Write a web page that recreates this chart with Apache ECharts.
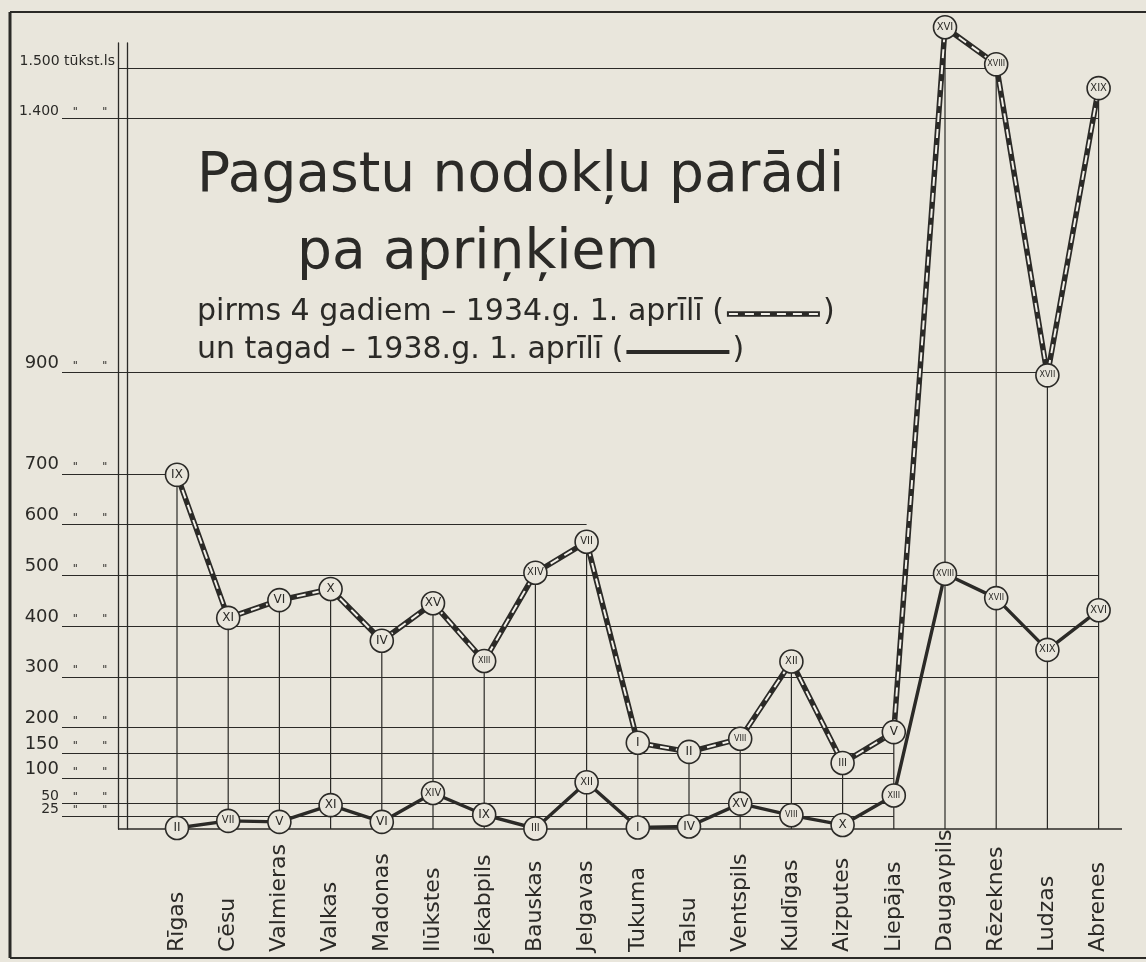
<!DOCTYPE html>
<html>
<head>
<meta charset="utf-8">
<title>Pagastu nodokļu parādi pa apriņķiem</title>
<script src="https://cdn.jsdelivr.net/npm/echarts@6/dist/echarts.min.js"></script>
<style>
  html, body { margin: 0; padding: 0; background: #e9e6dc; }
  #main { width: 1146px; height: 962px; }
</style>
</head>
<body>
<div id="main"></div>
<script>
// apriņķi, no kreisās uz labo
var districts = ['Rīgas', 'Cēsu', 'Valmieras', 'Valkas', 'Madonas', 'Ilūkstes', 'Jēkabpils', 'Bauskas', 'Jelgavas',
  'Tukuma', 'Talsu', 'Ventspils', 'Kuldīgas', 'Aizputes', 'Liepājas', 'Daugavpils', 'Rēzeknes', 'Ludzas', 'Abrenes'];

// parādi, tūkst. latu (nolasīts no attēla)
var debt1934 = [698, 416, 451, 473, 371, 445, 331, 505, 566, 170, 152, 178, 330, 130, 191, 1580, 1507, 894, 1460];
var debt1938 = [2, 16, 14, 47, 14, 71, 28, 1, 92, 3, 5, 50, 27, 8, 66, 503, 455, 353, 431];

// vietas (romiešu cipari aplīšos)
var rank1934 = ['IX', 'XI', 'VI', 'X', 'IV', 'XV', 'XIII', 'XIV', 'VII', 'I', 'II', 'VIII', 'XII', 'III', 'V', 'XVI', 'XVIII', 'XVII', 'XIX'];
var rank1938 = ['II', 'VII', 'V', 'XI', 'VI', 'XIV', 'IX', 'III', 'XII', 'I', 'IV', 'XV', 'VIII', 'X', 'XIII', 'XVIII', 'XVII', 'XIX', 'XVI'];

// skalas līnijas
var tickValues = [1500, 1400, 900, 700, 600, 500, 400, 300, 200, 150, 100, 50, 25];
var tickLabels = ['1.500 tūkst.ls', '1.400', '900', '700', '600', '500', '400', '300', '200', '150', '100', '50', '25'];

// līdz kuram apriņķim katra līnija iet
var tickLineEnd = [16, 18, 17, 0, 8, 18, 18, 18, 14, 14, 14, 14, 14];

var ink = '#2b2a27';
var paper = '#e9e6dc';
var FONT = '"DejaVu Sans", sans-serif';

var dropLines = debt1934.map(function (v, i) { return Math.max(v, debt1938[i]); });

var gridLines = [];
tickValues.forEach(function (v, i) {
  var small = v >= 1400 || v <= 50;
  var startX = v === 1500 ? 118 : 62;
  gridLines.push([
    { x: startX, yAxis: v,
      label: { show: true, position: 'start', distance: 3, verticalAlign: 'bottom',
        formatter: tickLabels[i], color: ink, fontFamily: FONT, fontSize: small ? 14 : 18 } },
    { xAxis: districts[tickLineEnd[i]], yAxis: v }
  ]);
  if (v !== 1500) {
    // pēdiņas (") aiz skaitļa
    gridLines.push([
      { x: 62, yAxis: v,
        label: { show: true, position: 'insideMiddleTop', distance: 1,
          formatter: '"       "', color: ink, fontFamily: FONT, fontSize: 11 } },
      { x: 118, yAxis: v }
    ]);
  }
});
// pamatlīnija
gridLines.push([{ x: 118, yAxis: 0, lineStyle: { width: 1.6 } }, { x: 1122, yAxis: 0 }]);

function romanTag(t) {
  var k = t.length <= 2 ? 'a' : (t.length === 3 ? 'b' : 'c');
  return '{' + k + '|' + t + '}';
}
var romanRich = {
  a: { fontSize: 12, color: ink, fontFamily: FONT },
  b: { fontSize: 10, color: ink, fontFamily: FONT },
  c: { fontSize: 8, color: ink, fontFamily: FONT }
};

// legendas paraugu vietas pēc teksta platuma
var ctx = document.createElement('canvas').getContext('2d');
var subFont = '30px ' + FONT;
ctx.font = subFont;
var sub1 = 'pirms 4 gadiem – 1934.g. 1. aprīlī (';
var sub2 = 'un tagad – 1938.g. 1. aprīlī (';
var subX = 197;
var e1 = subX + ctx.measureText(sub1).width;
var e2 = subX + ctx.measureText(sub2).width;

var myChart = echarts.init(document.getElementById('main'));

var option = {
  backgroundColor: paper,
  animation: false,
  textStyle: { fontFamily: FONT, color: ink },
  title: [
    { text: 'Pagastu nodokļu parādi', left: 192, top: 144,
      textStyle: { fontSize: 55, fontWeight: 'normal', color: ink, fontFamily: FONT } },
    { text: 'pa apriņķiem', left: 292, top: 221,
      textStyle: { fontSize: 55, fontWeight: 'normal', color: ink, fontFamily: FONT } }
  ],
  grid: { left: 151.4, right: 21.8, top: 43, bottom: 133, outerBoundsMode: 'none' },
  xAxis: {
    type: 'category',
    data: districts,
    boundaryGap: true,
    axisLine: { show: false },
    axisTick: { show: false },
    axisLabel: { interval: 0, rotate: 90, align: 'left', margin: 123,
      fontSize: 22, color: ink, fontFamily: FONT }
  },
  yAxis: [
    { type: 'value', min: 0, max: 1549, offset: 33.4,
      axisLine: { show: true, onZero: false, lineStyle: { color: ink, width: 1.3 } },
      axisTick: { show: false }, axisLabel: { show: false }, splitLine: { show: false } },
    { type: 'value', min: 0, max: 1549, position: 'left', offset: 24.4,
      axisLine: { show: true, onZero: false, lineStyle: { color: ink, width: 1.3 } },
      axisTick: { show: false }, axisLabel: { show: false }, splitLine: { show: false } }
  ],
  series: [
    {
      name: 'stabi',
      type: 'bar',
      data: dropLines,
      barWidth: 1.2,
      z: 1,
      clip: false,
      silent: true,
      itemStyle: { color: ink }
    },
    {
      name: '1934',
      type: 'line',
      data: debt1934,
      z: 2,
      clip: false,
      showSymbol: false,
      lineStyle: { color: ink, width: 5.5 },
      markLine: {
        silent: true,
        z: 1,
        symbol: ['none', 'none'],
        label: { show: false },
        lineStyle: { color: ink, width: 1.1, type: 'solid' },
        emphasis: { disabled: true },
        data: gridLines
      }
    },
    {
      name: '1934 svītras',
      type: 'line',
      data: debt1934,
      z: 3,
      clip: false,
      silent: true,
      showSymbol: false,
      lineStyle: { color: '#f3f1ea', width: 2, type: [9, 7] }
    },
    {
      name: '1938',
      type: 'line',
      data: debt1938,
      z: 3,
      clip: false,
      showSymbol: false,
      lineStyle: { color: ink, width: 3.4 }
    },
    {
      name: '1934 vietas',
      type: 'scatter',
      data: debt1934,
      z: 5,
      clip: false,
      silent: true,
      symbolSize: 23,
      itemStyle: { color: paper, borderColor: ink, borderWidth: 1.6, opacity: 1 },
      label: { show: true, position: 'inside',
        formatter: function (p) { return romanTag(rank1934[p.dataIndex]); }, rich: romanRich }
    },
    {
      name: '1938 vietas',
      type: 'scatter',
      data: debt1938,
      z: 5,
      clip: false,
      silent: true,
      symbolSize: 23,
      itemStyle: { color: paper, borderColor: ink, borderWidth: 1.6, opacity: 1 },
      label: { show: true, position: 'inside',
        formatter: function (p) { return romanTag(rank1938[p.dataIndex]); }, rich: romanRich }
    }
  ],
  graphic: [
    // lapas rāmis
    { type: 'line', silent: true, shape: { x1: 10, y1: 12, x2: 1146, y2: 12 }, style: { stroke: ink, lineWidth: 2 } },
    { type: 'line', silent: true, shape: { x1: 10, y1: 12, x2: 10, y2: 958 }, style: { stroke: ink, lineWidth: 3 } },
    { type: 'line', silent: true, shape: { x1: 10, y1: 958, x2: 1146, y2: 958 }, style: { stroke: ink, lineWidth: 2 } },
    // apakšvirsraksti ar legendu
    { type: 'text', x: subX, y: 312, silent: true,
      style: { text: sub1, font: subFont, fill: ink, verticalAlign: 'middle' } },
    { type: 'line', silent: true, shape: { x1: e1 + 3, y1: 314, x2: e1 + 96, y2: 314 },
      style: { stroke: ink, lineWidth: 5.5 } },
    { type: 'line', silent: true, shape: { x1: e1 + 5, y1: 314, x2: e1 + 94, y2: 314 },
      style: { stroke: '#f3f1ea', lineWidth: 2, lineDash: [9, 7] } },
    { type: 'text', x: e1 + 99, y: 312, silent: true,
      style: { text: ')', font: subFont, fill: ink, verticalAlign: 'middle' } },
    { type: 'text', x: subX, y: 350, silent: true,
      style: { text: sub2, font: subFont, fill: ink, verticalAlign: 'middle' } },
    { type: 'line', silent: true, shape: { x1: e2 + 3, y1: 352, x2: e2 + 106, y2: 352 },
      style: { stroke: ink, lineWidth: 4 } },
    { type: 'text', x: e2 + 109, y: 350, silent: true,
      style: { text: ')', font: subFont, fill: ink, verticalAlign: 'middle' } }
  ]
};

myChart.setOption(option);
</script>
</body>
</html>
